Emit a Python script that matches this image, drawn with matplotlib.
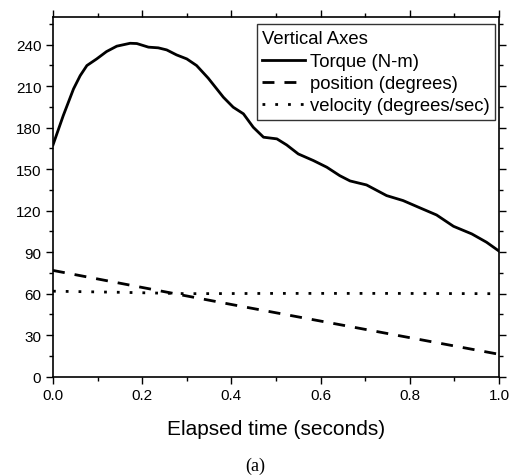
import matplotlib
matplotlib.use("Agg")
import matplotlib.pyplot as plt
from matplotlib.ticker import MultipleLocator, FormatStrFormatter

plt.rcParams['font.family'] = ['Liberation Sans', 'DejaVu Sans']

t_torque = [0.0, 0.023, 0.046, 0.061, 0.076, 0.098, 0.120, 0.143, 0.173, 0.188,
            0.214, 0.236, 0.255, 0.277, 0.300, 0.322, 0.348, 0.382, 0.404, 0.427,
            0.449, 0.472, 0.502, 0.524, 0.550, 0.584, 0.614, 0.643, 0.666, 0.685,
            0.703, 0.748, 0.785, 0.823, 0.860, 0.898, 0.939, 0.972, 1.0]
torque = [167.5, 188.7, 208, 217.6, 224.9, 229.7, 235, 238.9, 241, 240.8,
          238.2, 237.7, 236.2, 232.6, 229.7, 224.9, 215.8, 202, 194.8, 190,
          180.3, 173.1, 171.9, 167.5, 161, 156.2, 151.4, 145.3, 141.5, 140,
          138.6, 130.9, 127.3, 122, 116.9, 108.7, 103.2, 97.2, 90.8]

t_pos = [0.0, 0.2, 0.4, 0.6, 0.8, 1.0]
position = [76.8, 64.5, 52.2, 40.2, 28.2, 16.2]

t_vel = [0.0, 0.15, 0.3, 0.5, 0.75, 1.0]
velocity = [61.8, 61.0, 60.0, 60.2, 60.2, 60.0]

fig = plt.figure(figsize=(5.11, 4.77), dpi=100)
ax = fig.add_axes([0.1037, 0.2082, 0.8728, 0.7541])

ax.plot(t_torque, torque, color='black', lw=2.0, solid_joinstyle='round',
        label='Torque (N-m)')
ax.plot(t_pos, position, color='black', lw=2.0, dashes=(4.3, 3.6),
        label='position (degrees)')
ax.plot(t_vel, velocity, color='black', lw=2.0, dashes=(1.0, 3.6),
        label='velocity (degrees/sec)')

ax.set_xlim(0, 1.0)
ax.set_ylim(0, 260)
ax.xaxis.set_major_locator(MultipleLocator(0.2))
ax.xaxis.set_minor_locator(MultipleLocator(0.1))
ax.xaxis.set_major_formatter(FormatStrFormatter('%.1f'))
ax.yaxis.set_major_locator(MultipleLocator(30))
ax.yaxis.set_minor_locator(MultipleLocator(15))
ax.tick_params(which='both', direction='out', top=True, right=True,
               labeltop=False, labelright=False, width=1.0, color='black')
ax.tick_params(which='major', length=5.2, labelsize=11, pad=3.2)
ax.tick_params(which='minor', length=2.6)
for s in ax.spines.values():
    s.set_linewidth(1.2)

ax.set_xlabel('Elapsed time (seconds)', fontsize=15, labelpad=12)

leg = ax.legend(title='Vertical Axes', loc='upper right',
                bbox_to_anchor=(0.991, 0.9805), borderaxespad=0.0,
                fontsize=13.3, title_fontsize=13.3, frameon=True, fancybox=False,
                edgecolor='black', handlelength=2.3, handletextpad=0.27,
                borderpad=0.3, labelspacing=0.27)
leg._legend_box.align = 'left'
leg._legend_box.sep = 5
leg.get_frame().set_linewidth(1.0)

fig.text(0.5, 1 - 466.7 / 477, '(a)', ha='center', va='center',
         fontsize=13, family='Liberation Serif')

fig.savefig('out.png', dpi=100)
